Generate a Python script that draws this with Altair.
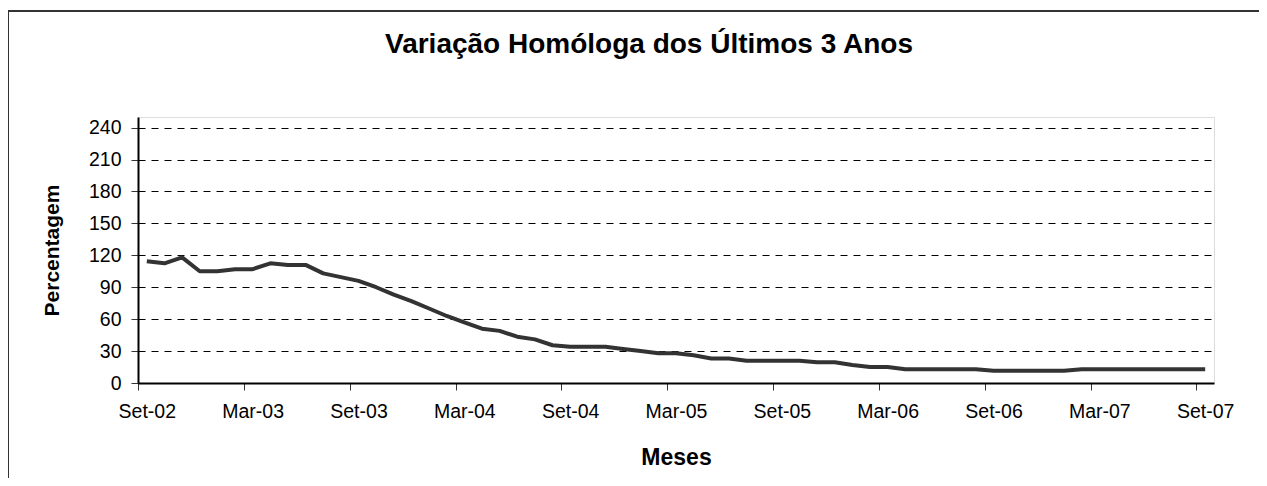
import altair as alt
import pandas as pd

months = [
    "Set-02", "Out-02", "Nov-02", "Dez-02", "Jan-03", "Fev-03", "Mar-03", "Abr-03", "Mai-03", "Jun-03", "Jul-03", "Ago-03",
    "Set-03", "Out-03", "Nov-03", "Dez-03", "Jan-04", "Fev-04", "Mar-04", "Abr-04", "Mai-04", "Jun-04", "Jul-04", "Ago-04",
    "Set-04", "Out-04", "Nov-04", "Dez-04", "Jan-05", "Fev-05", "Mar-05", "Abr-05", "Mai-05", "Jun-05", "Jul-05", "Ago-05",
    "Set-05", "Out-05", "Nov-05", "Dez-05", "Jan-06", "Fev-06", "Mar-06", "Abr-06", "Mai-06", "Jun-06", "Jul-06", "Ago-06",
    "Set-06", "Out-06", "Nov-06", "Dez-06", "Jan-07", "Fev-07", "Mar-07", "Abr-07", "Mai-07", "Jun-07", "Jul-07", "Ago-07",
    "Set-07",
]
values = [
    114.5, 112.5, 118, 105, 105, 107, 107, 112.5, 111, 111, 103, 99.5,
    96, 90, 83, 77, 70, 63, 57, 51, 49, 43.5, 41, 35.5,
    34, 34, 34, 32, 30, 28, 28, 26, 23, 23, 21, 21,
    21, 21, 19.5, 19.5, 17, 15, 15, 13, 13, 13, 13, 13,
    11.5, 11.5, 11.5, 11.5, 11.5, 13, 13, 13, 13, 13, 13, 13,
    13,
]
tick_labels = ["Set-02", "Mar-03", "Set-03", "Mar-04", "Set-04", "Mar-05",
               "Set-05", "Mar-06", "Set-06", "Mar-07", "Set-07"]
y_ticks = [0, 30, 60, 90, 120, 150, 180, 210, 240]
title_text = "Variação Homóloga dos Últimos 3 Anos"

W, H = 1076, 266
PAD_L, PAD_T, PAD_R, PAD_B = 130, 109, 45, 95
n = len(months)
half = W / n / 2

df = pd.DataFrame({"i": list(range(n)), "mes": months, "v": values})

label_expr = "[" + ",".join("'%s'" % t for t in tick_labels) + "][round(datum.value/6)]"
FONT = "Liberation Sans"

line = alt.Chart(df).mark_line(color="#333333", strokeWidth=4, strokeJoin="round").encode(
    x=alt.X("i:Q", scale=alt.Scale(domain=[-0.5, n - 0.5], nice=False, zero=False),
            axis=alt.Axis(values=list(range(0, n, 6)), labelExpr=label_expr,
                          tickOffset=-half, labelOffset=half, grid=False,
                          domainColor="#000000", domainWidth=2, tickColor="#333333", tickWidth=1,
                          tickSize=7, labelPadding=12, labelFont=FONT, labelFontSize=19.5,
                          labelColor="#000000", title="Meses", titleFont=FONT, titleFontSize=23,
                          titleFontWeight="bold", titleColor="#000000", titleY=74,
                          titleBaseline="middle")),
    y=alt.Y("v:Q", scale=alt.Scale(domain=[0, 250], nice=False),
            axis=alt.Axis(values=y_ticks, grid=True, gridColor="#000000", gridDash=[7, 6],
                          gridWidth=1, domainColor="#000000", domainWidth=2,
                          tickColor="#333333", tickWidth=1, tickSize=7, labelPadding=10,
                          labelFont=FONT, labelFontSize=19.5, labelColor="#000000",
                          title="Percentagem", titleFont=FONT, titleFontSize=21,
                          titleFontWeight="bold", titleColor="#000000", titleX=-86,
                          titleY=H / 2, titleBaseline="middle", titleAngle=270)),
)

one = alt.Data(values=[{}])

frame = alt.Chart(one).mark_rect(
    fill="transparent", stroke="#333333", strokeWidth=2
).encode(
    x=alt.value(-130), x2=alt.value(W + PAD_R + 60),
    y=alt.value(-106), y2=alt.value(H + PAD_B + 60),
)

title = alt.Chart(one).mark_text(
    font=FONT, fontSize=28, fontWeight="bold", color="#000000",
    align="center", baseline="alphabetic"
).encode(
    text=alt.value(title_text), x=alt.value(511), y=alt.value(-64),
)

chart = alt.layer(frame, line, title).properties(
    width=W, height=H,
    autosize=alt.AutoSizeParams(type="none"),
    padding={"left": PAD_L, "top": PAD_T, "right": PAD_R, "bottom": PAD_B},
).configure_view(stroke="#000000", strokeWidth=2).configure(background="white")

chart.save("out.html", embed_options={"renderer": "svg", "actions": False})
